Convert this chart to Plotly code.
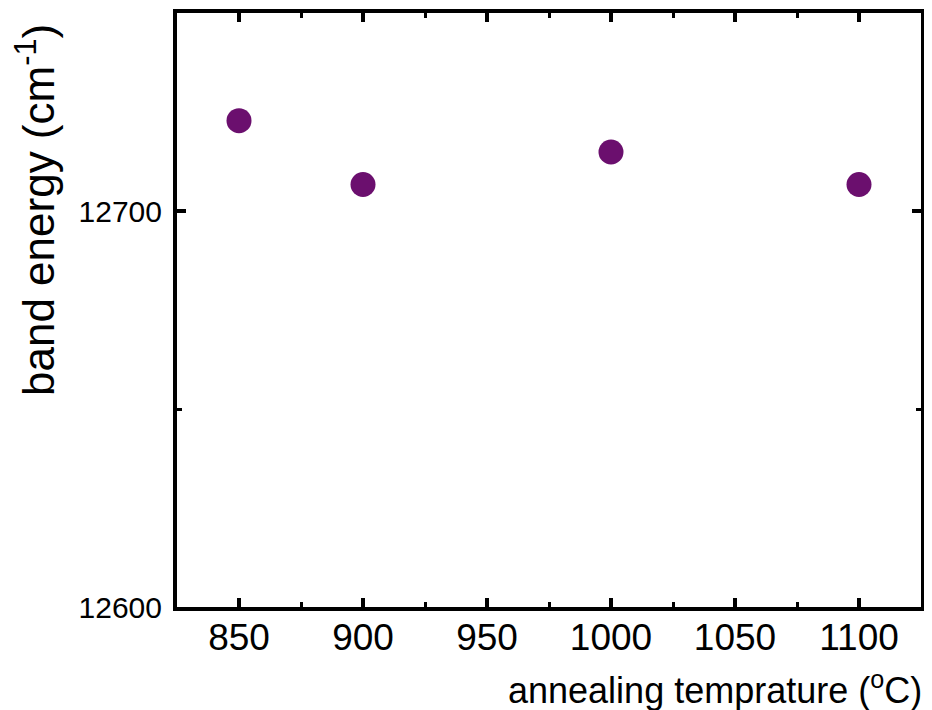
import plotly.graph_objects as go

temperature = [850, 900, 1000, 1100]
band_energy = [12722.8, 12706.7, 12714.9, 12706.7]
x_ticks = [850, 900, 950, 1000, 1050, 1100]
y_ticks = [12600, 12700]

FONT = "Liberation Sans, Arial, sans-serif"

fig = go.Figure()
fig.add_trace(go.Scatter(
    x=temperature, y=band_energy, mode="markers",
    marker=dict(size=25, color="#6b0f6e", line=dict(width=0)),
    showlegend=False, hoverinfo="x+y",
))

fig.update_layout(
    template="none",
    width=932, height=710,
    margin=dict(l=169, r=19, t=5, b=111),
    paper_bgcolor="white", plot_bgcolor="white",
    font=dict(family=FONT, color="black"),
)
fig.update_xaxes(
    range=[825, 1125], tickvals=x_ticks, ticks="inside", ticklen=9, tickwidth=4,
    tickcolor="black", showline=True, linewidth=4, linecolor="black", mirror="allticks",
    showgrid=False, zeroline=False, tickfont=dict(size=37, family=FONT, color="black"),
    ticklabelstandoff=-5, automargin=False,
    minor=dict(dtick=25, tick0=825, ticks="inside", ticklen=5, tickwidth=3, tickcolor="black", showgrid=False),
)
fig.update_yaxes(
    range=[12600, 12750], tickvals=y_ticks, ticks="inside", ticklen=9, tickwidth=4,
    tickcolor="black", showline=True, linewidth=4, linecolor="black", mirror="allticks",
    showgrid=False, zeroline=False, tickfont=dict(size=30, family=FONT, color="black"),
    ticklabelstandoff=5, tickformat="d", automargin=False,
    minor=dict(dtick=50, tick0=12600, ticks="inside", ticklen=5, tickwidth=3, tickcolor="black", showgrid=False),
)
fig.add_annotation(
    text="annealing temprature (<sup>o</sup>C)", xref="paper", yref="paper",
    x=1, y=0, xanchor="right", yanchor="bottom", xshift=3, yshift=-106, showarrow=False,
    font=dict(size=36, family=FONT, color="black"),
)
fig.add_annotation(
    text="band energy (cm<sup>-1</sup>)", xref="paper", yref="paper",
    x=0, y=1, xanchor="center", yanchor="top", xshift=-142, yshift=-9, textangle=-90,
    showarrow=False, font=dict(size=44, family=FONT, color="black"),
)
fig.write_html("out.html")
